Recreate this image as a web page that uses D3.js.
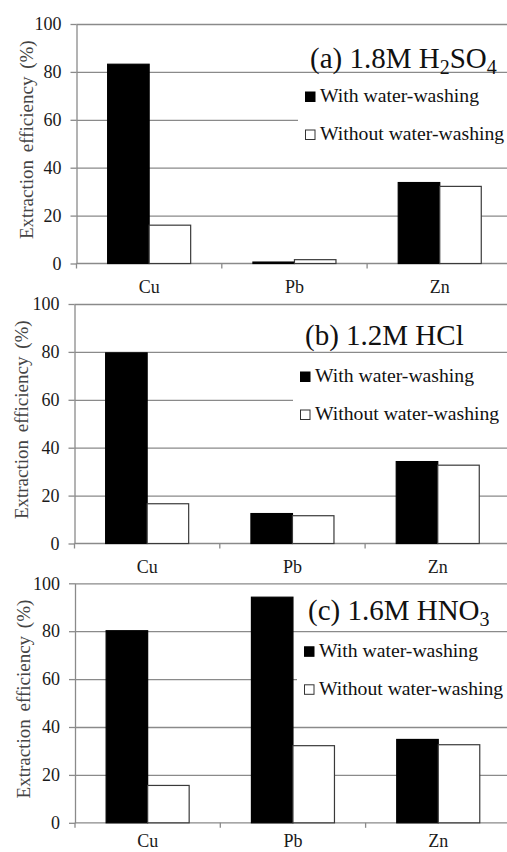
<!DOCTYPE html>
<html>
<head>
<meta charset="utf-8">
<script src="https://cdn.jsdelivr.net/npm/d3@7"></script>
<style>
  html, body { margin: 0; padding: 0; background: #fff; }
  svg { display: block; }
</style>
</head>
<body>
<script>
// Metals and series
const categories = ["Cu", "Pb", "Zn"];
const seriesNames = ["With water-washing", "Without water-washing"];
const yTicks = [0, 20, 40, 60, 80, 100];

// Extraction efficiency (%) per leaching acid
const withWashH2SO4 = [83.2, 0.6, 33.8];
const withoutWashH2SO4 = [16.0, 1.6, 32.2];
const withWashHCl = [79.6, 12.5, 34.2];
const withoutWashHCl = [16.6, 11.6, 32.7];
const withWashHNO3 = [80.2, 94.2, 34.8];
const withoutWashHNO3 = [15.6, 32.2, 32.6];

// Panel titles as [text, isSubscript] runs
const titleH2SO4 = [["(a) 1.8M H", false], ["2", true], ["SO", false], ["4", true]];
const titleHCl = [["(b) 1.2M HCl", false]];
const titleHNO3 = [["(c) 1.6M HNO", false], ["3", true]];

const yLabel = "Extraction efficiency (%)";

const FONT = "Liberation Serif, Times New Roman, serif";
const W = 507, H = 852;
const bandW = 145.3;
const plotH = 239.5;

const panels = [
  { title: titleH2SO4, withW: withWashH2SO4, withoutW: withoutWashH2SO4,
    top: 24, left: 76.5, titleX: 310, titleDy: 44, legX: 305, legDy: 78, yLabX: 33, catPad: 17 },
  { title: titleHCl, withW: withWashHCl, withoutW: withoutWashHCl,
    top: 304, left: 74.5, titleX: 305, titleDy: 40.5, legX: 300, legDy: 78, yLabX: 28, catPad: 17 },
  { title: titleHNO3, withW: withWashHNO3, withoutW: withoutWashHNO3,
    top: 583.3, left: 75, titleX: 308, titleDy: 37, legX: 304, legDy: 73.5, yLabX: 30, catPad: 11 }
];

const gridColor = "#8a8a8a";

const svg = d3.select("body").append("svg")
  .attr("width", W).attr("height", H)
  .attr("viewBox", `0 0 ${W} ${H}`)
  .attr("font-family", FONT);

panels.forEach(p => {
  const g = svg.append("g");
  const bottom = p.top + plotH;
  const y = d3.scaleLinear().domain([0, 100]).range([bottom, p.top]);
  const x0 = d3.scaleBand().domain(categories).range([p.left, p.left + 3 * bandW]);
  const x1 = d3.scaleBand().domain(seriesNames).range([0, x0.bandwidth()]).paddingOuter(0.75);

  // Horizontal gridlines
  const grid = g.append("g")
    .attr("transform", `translate(${p.left},0)`)
    .call(d3.axisLeft(y).tickValues(yTicks.filter(t => t > 0)).tickSize(-(W - p.left)).tickFormat(""));
  grid.select(".domain").remove();
  grid.selectAll("line").attr("stroke", gridColor).attr("stroke-width", 1.3);

  // Y axis with outer ticks and labels
  const yAx = g.append("g")
    .attr("transform", `translate(${p.left},0)`)
    .call(d3.axisLeft(y).tickValues(yTicks).tickSize(6).tickSizeOuter(0).tickPadding(9));
  yAx.attr("font-family", FONT).attr("font-size", 18);
  yAx.select(".domain").attr("stroke", gridColor).attr("stroke-width", 1.3);
  yAx.selectAll("line").attr("stroke", gridColor).attr("stroke-width", 1.3);
  yAx.selectAll("text").attr("fill", "#1a1a1a");

  // X axis baseline
  g.append("line")
    .attr("x1", p.left).attr("x2", W)
    .attr("y1", y(0)).attr("y2", y(0))
    .attr("stroke", gridColor).attr("stroke-width", 1.3);

  // Category boundary ticks
  const bounds = categories.map(c => x0(c)).concat([x0(categories[2]) + x0.bandwidth()]);
  g.selectAll(".bt").data(bounds).join("line")
    .attr("x1", d => d).attr("x2", d => d)
    .attr("y1", y(0)).attr("y2", y(0) + 5)
    .attr("stroke", gridColor).attr("stroke-width", 1.3);

  // Category labels
  const xAx = g.append("g")
    .attr("transform", `translate(0,${y(0)})`)
    .call(d3.axisBottom(x0).tickSize(0).tickPadding(p.catPad));
  xAx.attr("font-family", FONT).attr("font-size", 18);
  xAx.select(".domain").remove();
  xAx.selectAll("text").attr("fill", "#1a1a1a");

  // Bars
  const rows = categories.map((c, i) => ({ cat: c, vals: [p.withW[i], p.withoutW[i]] }));
  const grp = g.selectAll(".cat").data(rows).join("g")
    .attr("transform", d => `translate(${x0(d.cat)},0)`);
  grp.selectAll("rect").data(d => d.vals.map((v, k) => ({ s: seriesNames[k], v, k })))
    .join("rect")
    .attr("x", d => x1(d.s))
    .attr("width", x1.bandwidth())
    .attr("y", d => y(d.v))
    .attr("height", d => y(0) - y(d.v))
    .attr("fill", d => d.k === 0 ? "#000" : "#fff")
    .attr("stroke", d => d.k === 0 ? "#000" : "#3a3a3a")
    .attr("stroke-width", 1.2);

  // Panel title
  const t = g.append("text")
    .attr("x", p.titleX).attr("y", p.top + p.titleDy)
    .attr("font-size", 29).attr("fill", "#111");
  let shifted = false;
  p.title.forEach(([txt, sub]) => {
    const ts = t.append("tspan").text(txt);
    if (sub && !shifted) { ts.attr("font-size", 20).attr("dy", 6); shifted = true; }
    else if (!sub && shifted) { ts.attr("dy", -6); shifted = false; }
    else if (sub) ts.attr("font-size", 20);
  });

  // Legend
  const legTop = p.top + p.legDy;
  g.append("rect")
    .attr("x", p.legX - 7).attr("y", legTop - 22)
    .attr("width", W - p.legX + 7).attr("height", 68)
    .attr("fill", "#fff");
  seriesNames.forEach((s, k) => {
    const by = legTop + k * 38;
    g.append("rect")
      .attr("x", p.legX + 0.5).attr("y", by - 10)
      .attr("width", 9.5).attr("height", 9.5)
      .attr("fill", k === 0 ? "#000" : "#fff")
      .attr("stroke", k === 0 ? "#000" : "#333").attr("stroke-width", 1);
    g.append("text")
      .attr("x", p.legX + 15).attr("y", by)
      .attr("font-size", 19.7).attr("fill", "#111")
      .text(s);
  });

  // Y axis title
  g.append("text")
    .attr("transform", `translate(${p.yLabX},${(p.top + bottom) / 2 - 4}) rotate(-90)`)
    .attr("text-anchor", "middle")
    .attr("font-size", 19).attr("fill", "#444")
    .attr("word-spacing", 3)
    .text(yLabel);
});
</script>
</body>
</html>
